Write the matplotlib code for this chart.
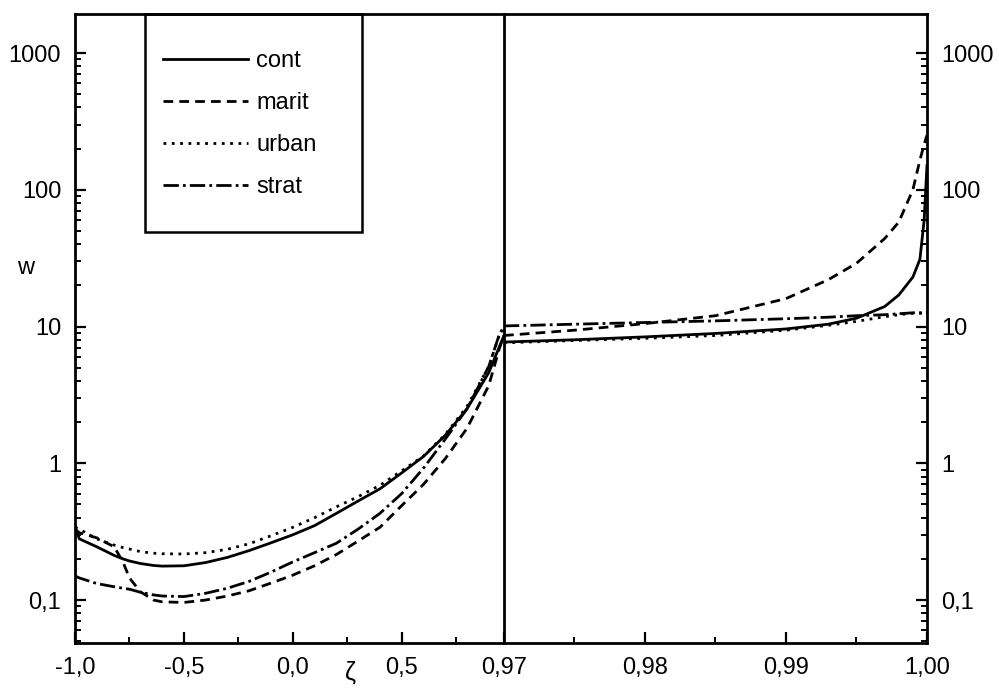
import matplotlib
matplotlib.use("Agg")
import matplotlib.pyplot as plt
from matplotlib.patches import Rectangle
from matplotlib.ticker import LogLocator, NullFormatter

plt.rcParams["font.family"] = ["Liberation Sans", "DejaVu Sans"]
plt.rcParams["font.size"] = 17

# zeta from -1 to 0.97 (left panel)
zeta_left = [-1.0, -0.98, -0.9, -0.82, -0.78, -0.75, -0.7, -0.64, -0.6, -0.5,
             -0.4, -0.3, -0.2, -0.1, 0.0, 0.1, 0.2, 0.3, 0.4, 0.5, 0.6, 0.7,
             0.8, 0.9, 0.95, 0.97]
cont_left = [0.34, 0.28, 0.245, 0.212, 0.2, 0.193, 0.185, 0.179, 0.177, 0.178,
             0.188, 0.205, 0.23, 0.262, 0.30, 0.35, 0.43, 0.53, 0.65, 0.85,
             1.12, 1.6, 2.5, 4.6, 7.2, 8.6]
marit_left = [0.33, 0.31, 0.285, 0.245, 0.19, 0.145, 0.115, 0.1, 0.097, 0.096,
              0.1, 0.107, 0.117, 0.133, 0.152, 0.178, 0.215, 0.27, 0.34, 0.49,
              0.7, 1.08, 1.8, 3.7, 7.0, 8.6]
urban_left = [0.34, 0.33, 0.28, 0.252, 0.242, 0.236, 0.226, 0.22, 0.218, 0.217,
              0.222, 0.235, 0.258, 0.295, 0.34, 0.40, 0.48, 0.57, 0.69, 0.88,
              1.13, 1.62, 2.6, 5.1, 8.8, 9.4]
strat_left = [0.15, 0.145, 0.132, 0.125, 0.122, 0.12, 0.114, 0.109, 0.107, 0.106,
              0.112, 0.122, 0.137, 0.16, 0.19, 0.222, 0.26, 0.33, 0.43, 0.6,
              0.92, 1.5, 2.5, 5.1, 8.9, 10.0]

# zeta from 0.97 to 1.00 (right panel)
zeta_right = [0.970, 0.975, 0.980, 0.985, 0.990, 0.993, 0.995, 0.997, 0.998,
              0.999, 0.9995, 0.9998, 1.000]
cont_right = [7.7, 8.0, 8.4, 8.9, 9.6, 10.4, 11.5, 14.0, 17.0, 23.0, 31.0, 60.0, 150.0]
marit_right = [8.6, 9.4, 10.5, 12.0, 16.0, 22.0, 29.0, 44.0, 58.0, 100.0, 165.0, 215.0, 250.0]
urban_right = [7.6, 7.9, 8.2, 8.6, 9.4, 10.2, 10.9, 11.8, 12.2, 12.5, 12.5, 12.5, 12.5]
strat_right = [10.1, 10.4, 10.7, 11.0, 11.4, 11.7, 12.0, 12.2, 12.4, 12.6, 12.6, 12.7, 12.7]

labels = ["cont", "marit", "urban", "strat"]
styles = ["-", (0, (3.5, 2.2)), (0, (1.0, 2.0)), (0, (5.5, 1.5, 1.0, 1.5))]

fig = plt.figure(figsize=(9.99, 6.88), dpi=100)
ax1 = fig.add_axes([0.0751, 0.0654, 0.4294, 0.9142])
ax2 = fig.add_axes([0.5045, 0.0654, 0.4234, 0.9142])
ax2.patch.set_visible(False)
ax1.set_zorder(2)
ax1.patch.set_visible(False)

left_series = [cont_left, marit_left, urban_left, strat_left]
right_series = [cont_right, marit_right, urban_right, strat_right]
handles = []
for vals, ls, lab in zip(left_series, styles, labels):
    h, = ax1.plot(zeta_left, vals, color="black", lw=2.0, linestyle=ls, label=lab)
    handles.append(h)
for vals, ls in zip(right_series, styles):
    ax2.plot(zeta_right, vals, color="black", lw=2.0, linestyle=ls)

ylo, yhi = 0.0485, 1928
for ax in (ax1, ax2):
    ax.set_yscale("log")
    ax.set_ylim(ylo, yhi)
    ax.yaxis.set_major_locator(LogLocator(base=10, numticks=10))
    ax.yaxis.set_minor_locator(LogLocator(base=10, subs=range(2, 10), numticks=20))
    ax.yaxis.set_minor_formatter(NullFormatter())
    for sp in ax.spines.values():
        sp.set_linewidth(2.0)
    ax.tick_params(which="major", direction="in", length=8, width=1.6, pad=10)
    ax.tick_params(which="minor", direction="in", length=4.5, width=1.4)

yticks = [0.1, 1, 10, 100, 1000]
ylabels = ["0,1", "1", "10", "100", "1000"]

ax1.set_xlim(-1.0, 0.97)
ax1.set_xticks([-1.0, -0.5, 0.0, 0.5], ["-1,0", "-0,5", "0,0", "0,5"])
ax1.set_xticks([-0.75, -0.25, 0.25, 0.75], minor=True)
ax1.set_yticks(yticks, ylabels)
ax1.tick_params(axis="y", which="both", left=True, right=False)
ax1.tick_params(axis="x", which="both", top=False)

ax2.set_xlim(0.97, 1.0)
ax2.set_xticks([0.97, 0.98, 0.99, 1.0], ["0,97", "0,98", "0,99", "1,00"])
ax2.set_xticks([0.975, 0.985, 0.995], minor=True)
ax2.yaxis.tick_right()
ax2.set_yticks(yticks, ylabels)
ax2.tick_params(axis="y", which="both", left=False, right=True,
                labelleft=False, labelright=True)
ax2.tick_params(axis="x", which="both", top=False)
ax2.spines["left"].set_visible(False)

fig.text(350 / 999, 1 - 680 / 688, "\u03b6", ha="center", va="baseline", fontsize=18)
fig.text(26 / 999, 1 - 268 / 688, "w", ha="center", va="center", fontsize=17)

fig.legend(handles=handles, loc="upper left", bbox_to_anchor=(163 / 999, 1 - 50 / 688),
           frameon=False, borderpad=0, borderaxespad=0, handlelength=3.6,
           handletextpad=0.35, labelspacing=0.85, fontsize=17)
fig.add_artist(Rectangle((145 / 999, 1 - 232 / 688), 217 / 999, 218 / 688,
                         transform=fig.transFigure, fill=False, lw=1.8,
                         edgecolor="black"))

fig.savefig("out.png", dpi=100)
